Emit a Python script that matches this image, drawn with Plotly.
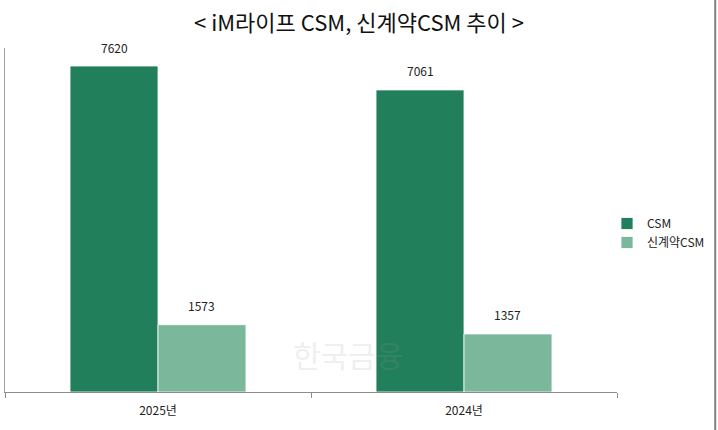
import plotly.graph_objects as go

years = ["2025년", "2024년"]
csm = [7620, 7061]
new_csm = [1573, 1357]

font = "Noto Sans CJK KR"
W, H = 718, 430

fig = go.Figure()
fig.add_trace(go.Bar(x=years, y=csm, name="CSM",
                     marker=dict(color="#217f5b", line=dict(color="white", width=0.8))))
fig.add_trace(go.Bar(x=years, y=new_csm, name="신계약CSM",
                     marker=dict(color="#7bb79a", line=dict(color="white", width=0.8))))

# value labels above bars
for i, yr in enumerate(years):
    for vals, off in ((csm, -0.5), (new_csm, 0.5)):
        fig.add_annotation(x=i + off * 0.2875, y=vals[i], xref="x", yref="y",
                           text=str(vals[i]), showarrow=False, yshift=19,
                           font=dict(size=12, color="#222222", family=font))

# faint watermark
fig.add_annotation(x=0.56, y=0.11, xref="paper", yref="paper", text="한국금융",
                   showarrow=False, opacity=0.15, yanchor="middle",
                   font=dict(size=30, color="#9a9a9a", family=font))

fig.update_layout(
    width=W, height=H,
    barmode="group", bargap=0.425, bargroupgap=0,
    margin=dict(l=5, r=101, t=48, b=38, autoexpand=False),
    paper_bgcolor="white", plot_bgcolor="white",
    title=dict(text="< iM라이프 CSM, 신계약CSM 추이 >", x=359 / W, xref="container",
               xanchor="center", y=1 - 23 / H, yref="container", yanchor="middle",
               font=dict(size=22, color="#111111", family=font)),
    legend=dict(x=607 / W, y=1 - 233 / H, xref="container", yref="container",
                xanchor="left", yanchor="middle",
                font=dict(size=12, color="#222222", family=font),
                itemwidth=30, tracegroupgap=2),
    font=dict(family=font),
    shapes=[dict(type="line", xref="paper", yref="paper", x0=1.1605, x1=1.1605,
                 y0=-0.2, y1=1.2, line=dict(color="#808080", width=2))],
)
fig.update_xaxes(showline=True, linecolor="#8c8c8c", linewidth=1,
                 ticks="outside", tickson="boundaries", ticklen=5,
                 tickcolor="#8c8c8c", showgrid=False, automargin=False,
                 ticklabelstandoff=8,
                 tickfont=dict(size=12, color="#222222", family=font))
fig.update_yaxes(range=[0, 8041], showline=True, linecolor="#a0a0a0",
                 showticklabels=False, showgrid=False, zeroline=False, ticks="",
                 automargin=False)

fig.write_html("out.html", config={"displayModeBar": False},
               post_script="document.body.style.margin='0';")
